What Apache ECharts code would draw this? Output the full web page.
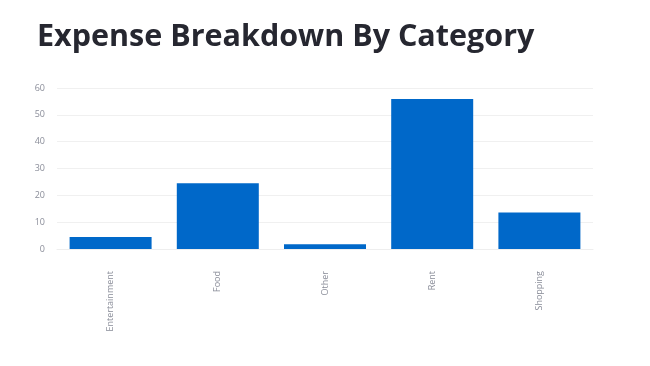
<!DOCTYPE html>
<html>
<head>
<meta charset="utf-8">
<script src="https://cdn.jsdelivr.net/npm/echarts@6/dist/echarts.min.js"></script>
<style>
html,body{margin:0;padding:0;background:#fff;}
#chart{width:650px;height:366px;}
</style>
</head>
<body>
<div id="chart"></div>
<script>
const categories = ["Entertainment", "Food", "Other", "Rent", "Shopping"];
const amounts = [4.5, 24.5, 1.75, 55.9, 13.6];
const yTicks = [0, 10, 20, 30, 40, 50, 60];

const chart = echarts.init(document.getElementById('chart'));
chart.setOption({
  animation: false,
  backgroundColor: '#ffffff',
  title: {
    text: 'Expense Breakdown By Category',
    left: 32,
    top: 17,
    textStyle: {
      fontFamily: 'Open Sans',
      fontWeight: 700,
      fontSize: 30.5,
      color: '#262730'
    }
  },
  grid: { left: 57, right: 57, top: 88, bottom: 117, containLabel: false },
  xAxis: {
    type: 'category',
    data: categories,
    axisLine: { show: true, lineStyle: { color: '#eeeeee' } },
    axisTick: { show: false },
    axisLabel: {
      rotate: 90,
      margin: 22,
      color: '#8a8d99',
      fontFamily: 'Open Sans',
      fontSize: 9
    }
  },
  yAxis: {
    type: 'value',
    min: yTicks[0],
    max: yTicks[yTicks.length - 1],
    interval: 10,
    axisLine: { show: false },
    axisTick: { show: false },
    splitLine: { lineStyle: { color: '#f0f0f0' } },
    axisLabel: {
      margin: 12,
      color: '#8a8d99',
      fontFamily: 'Open Sans',
      fontSize: 9
    }
  },
  series: [{
    type: 'bar',
    data: amounts,
    barWidth: 82,
    itemStyle: { color: '#0068C9' }
  }]
});
</script>
</body>
</html>
